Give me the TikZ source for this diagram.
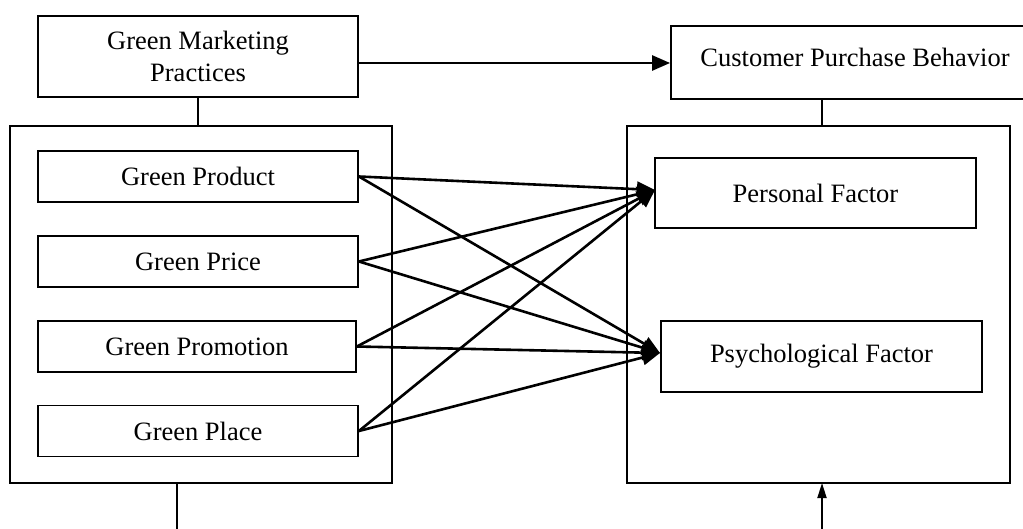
\documentclass[tikz,border=0pt]{standalone}
\usepackage{fontspec}
\setmainfont{Liberation Serif}
\usetikzlibrary{arrows.meta}
\begin{document}
\begin{tikzpicture}[x=1pt,y=-1pt,
  box/.style={draw,line width=1.8pt,rectangle,inner sep=0pt,align=center,
    font=\fontsize{26.5}{32}\selectfont},
  conn/.style={line width=1.8pt},
  arr/.style={line width=2.6pt,-{Triangle[length=18pt,width=15pt]}},
  arrs/.style={line width=1.8pt,-{Triangle[length=15pt,width=9pt]}},
  lbl/.style={inner sep=0pt,font=\fontsize{26.5}{32}\selectfont}]
\useasboundingbox (0,0) rectangle (1023,529);
% top boxes
\node[box,minimum width=320pt,minimum height=81pt] (gmp) at (198,56.5) {Green Marketing\\Practices};
\node[box,minimum width=364pt,minimum height=73pt] (cpb) at (853,62.5) {};
\node[lbl] (cpbt) at (855,57) {Customer Purchase Behavior};
% outer boxes
\node[box,minimum width=382pt,minimum height=357pt] (lo) at (201,304.5) {};
\node[box,minimum width=383pt,minimum height=357pt] (ro) at (818.5,304.5) {};
% inner left boxes
\node[box,minimum width=320pt,minimum height=51pt] (gpr) at (198,176.5) {Green Product};
\node[box,minimum width=320pt,minimum height=51pt] (gpc) at (198,261.5) {Green Price};
\node[box,minimum width=318pt,minimum height=51pt] (gpm) at (197,346.5) {Green Promotion};
\node[box,minimum width=320pt,minimum height=51pt] (gpl) at (198,431) {Green Place};
% inner right boxes
\node[box,minimum width=321pt,minimum height=70pt] (pf) at (815.5,193) {Personal Factor};
\node[box,minimum width=321pt,minimum height=71pt] (ps) at (821.5,356.5) {Psychological Factor};
% connectors
\draw[arr] (gmp.east |- 0,63) -- (cpb.west |- 0,63);
\draw[conn] (gmp.south) -- (gmp.south |- lo.north);
\draw[conn] (822,99) -- (822,126);
\coordinate (lb) at (177,535);
\coordinate (rb) at (822,535);
\draw[conn] (177,483) -- (lb);
\draw[arrs] (rb) -- (822,483);
\coordinate (pfin) at (655,190);
\coordinate (psin) at (660,353);
\foreach \s in {gpr,gpc,gpm,gpl}{
  \draw[arr] (\s.east) -- (pfin);
  \draw[arr] (\s.east) -- (psin);
}
\end{tikzpicture}
\end{document}
